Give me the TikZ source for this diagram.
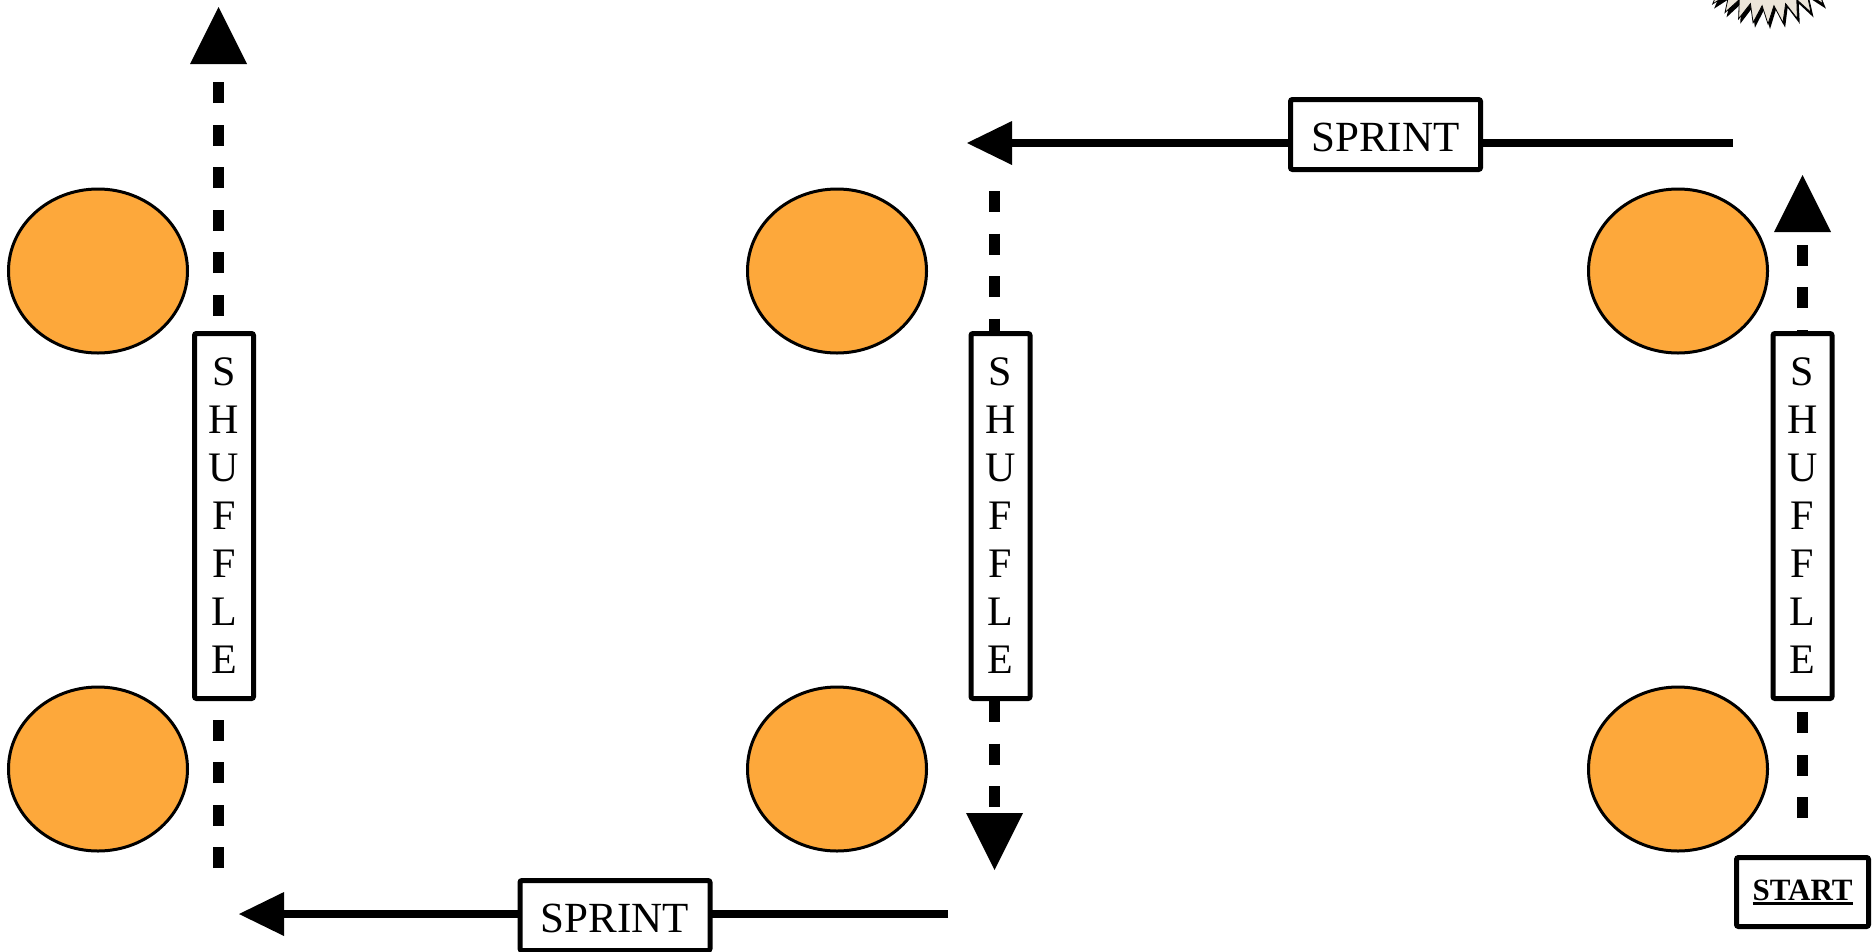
\documentclass[tikz,border=0pt]{standalone}
\usepackage{fontspec}
\setmainfont{Liberation Serif}
\usetikzlibrary{arrows.meta,shapes.geometric}
\definecolor{conecol}{RGB}{253,168,59}
\definecolor{suncol}{RGB}{236,229,217}
\newcommand\ulword[1]{\setbox0\hbox{#1}\rlap{\rule[-4.5pt]{\wd0}{2.5pt}}\box0}
\begin{document}
\begin{tikzpicture}[x=1pt,y=-1pt,
  conenode/.style={ellipse, draw, line width=3pt, fill=conecol, minimum width=179pt, minimum height=164pt, inner sep=0pt},
  shufbox/.style={draw, line width=5pt, rounded corners=2pt, fill=white, minimum width=59pt, minimum height=365pt, inner sep=0pt, align=center, font=\fontsize{42}{48}\selectfont},
  sprintbox/.style={draw, line width=5pt, rounded corners=2pt, fill=white, minimum width=190pt, minimum height=70pt, inner sep=0pt, font=\fontsize{43}{50}\selectfont},
  startbox/.style={draw, line width=5pt, rounded corners=2pt, fill=white, minimum width=132pt, minimum height=69pt, inner sep=0pt, font=\fontsize{31}{36}\selectfont\bfseries},
  shuffleline/.style={line width=11pt, dash pattern=on 21pt off 21.5pt, -{Triangle[length=57pt,width=57pt,line width=0pt]}},
  sprintline/.style={line width=7.5pt, -{Triangle[length=45pt,width=44pt,line width=0pt]}}
]
\useasboundingbox (0,0) rectangle (1873,951);
\fill[white] (0,0) rectangle (1873,951);

% sun (cut off at the top)
\begin{scope}
\clip (0,0) rectangle (1873,951);
\begin{scope}[shift={(1768,-62)}]
\fill[black, shift={(2,4)}] (0:87) \foreach \i in {0,...,35} { -- (\i*10+5:68) -- (\i*10+10:87) } -- cycle;
\fill[suncol, draw=black, line width=0.8pt] (0:86) \foreach \i in {0,...,35} { -- (\i*10+5:68) -- (\i*10+10:86) } -- cycle;
\end{scope}
\end{scope}

% cones
\node[conenode] (c1) at (98,271) {};
\node[conenode] (c2) at (98,769) {};
\node[conenode] (c3) at (837,271) {};
\node[conenode] (c4) at (837,769) {};
\node[conenode] (c5) at (1678,271) {};
\node[conenode] (c6) at (1678,769) {};

% run coordinates
\coordinate (lbot) at (218.5,868);
\coordinate (ltip) at (218.5,7);
\coordinate (mtop) at (994.5,191);
\coordinate (mtip) at (994.5,870);
\coordinate (rbot) at (1802.5,818);
\coordinate (rtip) at (1802.5,175);
\coordinate (tstart) at (1733,143);
\coordinate (ttip) at (967,143);
\coordinate (bstart) at (948,914);
\coordinate (btip) at (239,914);

% connectors
\draw[shuffleline] (rbot) -- (rtip);
\draw[sprintline] (tstart) -- (ttip);
\draw[shuffleline] (mtop) -- (mtip);
\draw[sprintline] (bstart) -- (btip);
\draw[shuffleline] (lbot) -- (ltip);

% labels
\node[shufbox] (sh1) at (224,516) {S\\H\\U\\F\\F\\L\\E};
\node[shufbox] (sh2) at (1000.5,516) {S\\H\\U\\F\\F\\L\\E};
\node[shufbox] (sh3) at (1802.5,516) {S\\H\\U\\F\\F\\L\\E};
\node[sprintbox] (sp1) at (1385.5,134.5) {\raisebox{-3pt}[28pt][0pt]{SPRINT}};
\node[sprintbox] (sp2) at (615,915.5) {\raisebox{-3pt}[28pt][0pt]{SPRINT}};
\node[startbox] (st) at (1802.5,892) {\ulword{START}};
\end{tikzpicture}
\end{document}
